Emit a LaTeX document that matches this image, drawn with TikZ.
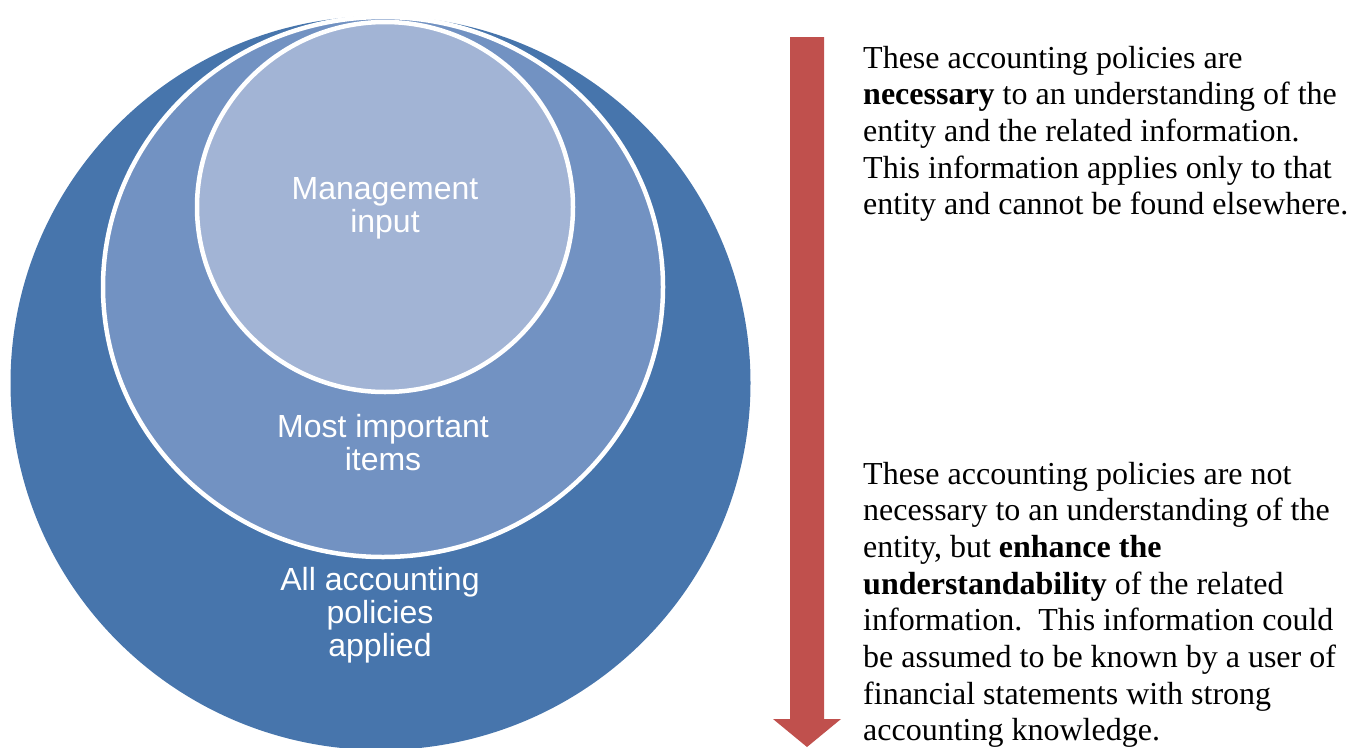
\documentclass[tikz,border=0pt]{standalone}
\usepackage{fontspec}
\setmainfont{Liberation Serif}
\newfontfamily\arialfont{Liberation Sans}
\definecolor{outerblue}{HTML}{4775AC}
\definecolor{midblue}{HTML}{7292C2}
\definecolor{innerblue}{HTML}{A2B4D5}
\definecolor{arrowred}{HTML}{C0504D}
\tikzset{
  ring/.style={draw=white, line width=4.5pt},
  circlabel/.style={text=white, font=\arialfont\fontsize{32}{33}\selectfont, align=center, anchor=base, inner sep=0pt},
  sidetext/.style={text=black, font=\fontsize{32}{36.7}\selectfont, align=left, anchor=base west, inner sep=0pt}
}
\begin{document}
\begin{tikzpicture}[x=1pt,y=-1pt]
\useasboundingbox (0,0) rectangle (1349,747);
\begin{scope}
\clip (0,0) rectangle (1349,747);
\fill[outerblue] (380.5,383) ellipse [x radius=370, y radius=367];
\filldraw[fill=midblue, ring] (383,287) ellipse [x radius=280, y radius=270];
\filldraw[fill=innerblue, ring] (385,207) ellipse [x radius=188, y radius=185];
\fill[arrowred] (790,37) -- (824,37) -- (824,719) -- (841,719) -- (807,747) -- (773,719) -- (790,719) -- cycle;
\end{scope}
\node[circlabel] (mgmt) at (385,232) {Management\\input};
\node[circlabel] (most) at (383,470) {Most important\\items};
\node[circlabel] (all) at (380,656) {All accounting\\policies\\applied};
\node[sidetext] (toptext) at (863,214.8) {These accounting policies are\\\textbf{necessary} to an understanding of the\\entity and the related information.\\This information applies only to that\\entity and cannot be found elsewhere.};
\node[sidetext] (bottext) at (863,740.9) {These accounting policies are not\\necessary to an understanding of the\\entity, but \textbf{enhance the}\\\textbf{understandability} of the related\\information.\ \ This information could\\be assumed to be known by a user of\\financial statements with strong\\accounting knowledge.};
\end{tikzpicture}
\end{document}
